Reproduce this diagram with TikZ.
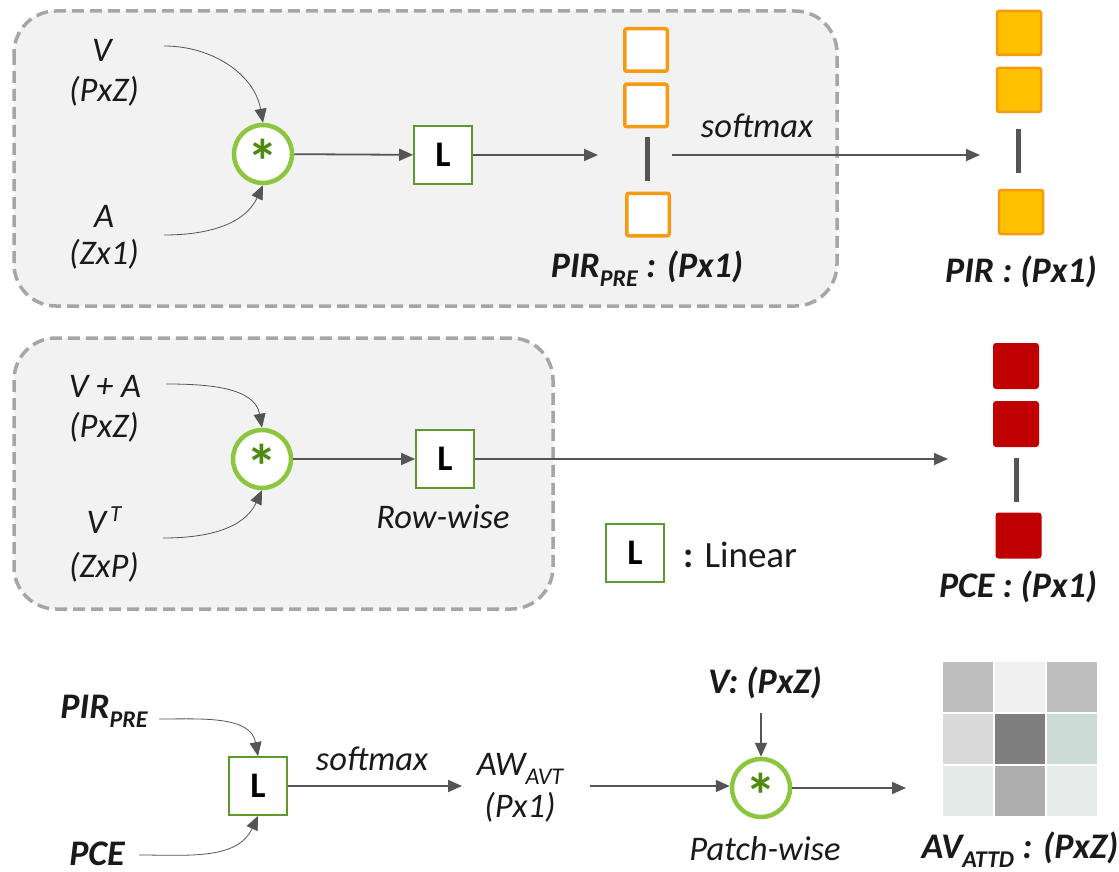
\documentclass[tikz,border=0pt]{standalone}
\usepackage{fontspec}
\setmainfont{Carlito}
\usetikzlibrary{arrows.meta,calc}
\definecolor{panelfill}{HTML}{F2F2F2}
\definecolor{paneldash}{HTML}{A6A6A6}
\definecolor{linegray}{HTML}{555555}
\definecolor{ringgreen}{HTML}{8CC63F}
\definecolor{stargreen}{HTML}{4F8A10}
\definecolor{boxgreen}{HTML}{5E9A2B}
\definecolor{orangeedge}{HTML}{F59B12}
\definecolor{pirfill}{HTML}{FFC000}
\definecolor{pcered}{HTML}{C00000}
\definecolor{txt}{HTML}{1A1A1A}
\definecolor{ga}{HTML}{BDBDBD}
\definecolor{gb}{HTML}{F0F0F0}
\definecolor{gc}{HTML}{D9D9D9}
\definecolor{gd}{HTML}{7F7F7F}
\definecolor{ge}{HTML}{CCDBD5}
\definecolor{gf}{HTML}{E3EAE8}
\definecolor{gg}{HTML}{ADADAD}
\definecolor{gh}{HTML}{E7ECEA}
\newcommand{\lowsub}[1]{\raisebox{-9pt}{\fontsize{24}{24}\selectfont #1}}
\newcommand{\upsup}[1]{\raisebox{12pt}{\fontsize{23}{23}\selectfont #1}}
\tikzset{
  panel/.style={draw=paneldash, fill=panelfill, line width=3.5pt, dash pattern=on 12pt off 6pt, rounded corners=42pt},
  opcirc/.style={circle, draw=ringgreen, fill=white, line width=4.5pt, minimum size=58pt, inner sep=0pt},
  startxt/.style={font=\fontsize{62}{62}\selectfont\bfseries, text=stargreen, inner sep=0pt},
  linbox/.style={draw=boxgreen, fill=white, line width=1.8pt, minimum size=58pt, inner sep=0pt, font=\fontsize{36}{36}\selectfont\bfseries, text=black},
  arr/.style={-{Triangle[length=14pt,width=12pt]}, draw=linegray, line width=1.8pt},
  carr/.style={-{Triangle[length=14pt,width=12pt]}, draw=linegray, line width=0.8pt},
  lab/.style={font=\fontsize{34.5}{38}\selectfont\itshape, text=txt, inner sep=0pt, anchor=base},
  blab/.style={font=\fontsize{36}{40}\selectfont\bfseries\itshape, text=txt, inner sep=0pt, anchor=base},
  presq/.style={draw=orangeedge, fill=white, line width=3.5pt, minimum size=42.5pt, rounded corners=2pt, inner sep=0pt},
  pirsq/.style={draw=orangeedge, fill=pirfill, line width=2.5pt, minimum size=44pt, rounded corners=2pt, inner sep=0pt},
  pcesq/.style={fill=pcered, draw=none, minimum size=46pt, rounded corners=3pt, inner sep=0pt},
  vbar/.style={draw=linegray, line width=5pt},
  cell/.style={draw=none, minimum size=49.5pt, inner sep=0pt, anchor=north west},
}
\begin{document}
\begin{tikzpicture}[x=1pt,y=1pt]
\useasboundingbox (0,0) rectangle (1119,-872);
\fill[white] (0,0) rectangle (1119,-872);

% panels
\draw[panel] (14,-11) rectangle (837,-306);
\draw[panel] (14,-338) rectangle (553,-609);

% ---------- top panel ----------
\node[lab] (v1) at (102,-62) {V};
\node[lab] (v1d) at (104,-102) {(PxZ)};
\node[lab] (a1) at (104,-227) {A};
\node[lab] (a1d) at (104,-264) {(Zx1)};
\coordinate (v1s) at (164,-46);
\coordinate (a1s) at (164,-235);
\node[opcirc] (c1) at (263,-154) {};
\node[startxt] (s1) at ([yshift=-7pt]c1.center) {*};
\node[linbox] (L1) at (443,-155) {L};
\draw[carr] (v1s) to[out=0,in=100] (c1.north);
\draw[carr] (a1s) to[out=0,in=-115] (c1.south);
\draw[arr] (c1) -- (L1);
\coordinate (preIn) at (598,-155);
\draw[arr] (L1) -- (preIn);

\node[presq] (p1) at (646,-50) {};
\node[presq] (p2) at (646,-105.5) {};
\node[presq] (p3) at (648,-214.5) {};
\draw[vbar] (647,-137) -- (647,-181);
\node[blab] (prelab) at (647,-277) {PIR\lowsub{PRE} : (Px1)};

\coordinate (preOut) at (672,-155);
\coordinate (pirIn) at (980,-155);
\draw[arr] (preOut) -- (pirIn);
\node[lab] (sm1) at (757,-138) {softmax};

\node[pirsq] (q1) at (1019,-33) {};
\node[pirsq] (q2) at (1019,-90) {};
\node[pirsq] (q3) at (1021,-212) {};
\draw[vbar] (1018,-129) -- (1018,-173);
\node[blab] (pirlab) at (1021,-282) {PIR : (Px1)};

% ---------- middle panel ----------
\node[lab] (v2) at (105,-397) {V + A};
\node[lab] (v2d) at (104,-437) {(PxZ)};
\node[lab] (vt) at (104,-533) {V\hspace{4pt}\upsup{T}};
\node[lab] (vtd) at (104,-577) {(ZxP)};
\coordinate (v2s) at (166,-384);
\coordinate (vts) at (163,-538);
\node[opcirc] (c2) at (262,-459) {};
\node[startxt] (s2) at ([yshift=-7pt]c2.center) {*};
\node[linbox] (L2) at (445,-459) {L};
\draw[carr] (v2s) to[out=0,in=100] (c2.north);
\draw[carr] (vts) to[out=0,in=-115] (c2.south);
\draw[arr] (c2) -- (L2);
\node[lab] (rw) at (443,-528) {Row-wise};
\coordinate (pceIn) at (948,-459);
\draw[arr] (L2) -- (pceIn);

\node[pcesq] (r1) at (1016,-366) {};
\node[pcesq] (r2) at (1016,-424) {};
\node[pcesq] (r3) at (1018.5,-535.5) {};
\draw[vbar] (1016,-458) -- (1016,-502);
\node[blab] (pcelab) at (1018,-597) {PCE : (Px1)};

% legend
\node[linbox] (Lleg) at (635,-553) {L};
\node[font=\fontsize{37}{40}\selectfont, text=txt, inner sep=0pt, anchor=base west] (legtxt) at (683,-567) {\textbf{:} Linear};

% ---------- bottom ----------
\node[blab] (pirb) at (104,-718) {PIR\lowsub{PRE}};
\node[blab] (pceb) at (97,-865) {PCE};
\coordinate (pirbs) at (159,-719);
\coordinate (pcebs) at (139,-855);
\node[linbox] (L3) at (258,-786) {L};
\draw[carr] (pirbs) to[out=0,in=100] (L3.north);
\draw[carr] (pcebs) to[out=0,in=-115] (L3.south);
\coordinate (awIn) at (462,-786);
\draw[arr] (L3) -- (awIn);
\node[lab] (sm2) at (372,-770) {softmax};
\node[lab] (aw) at (520,-775) {AW\lowsub{AVT}};
\node[lab] (awd) at (520,-817) {(Px1)};

\node[opcirc] (c3) at (761,-788) {};
\node[startxt] (s3) at ([yshift=-7pt]c3.center) {*};
\coordinate (awOut) at (590,-786);
\draw[arr] (awOut) -- (awOut -| c3.west);
\node[blab] (vlab) at (765,-693) {V: (PxZ)};
\coordinate (vdown) at (761,-713);
\draw[arr] (vdown) -- (c3.north);
\node[lab] (pw) at (765,-860) {Patch-wise};
\coordinate (gridIn) at (906,-788);
\draw[arr] (c3.east) -- (gridIn);

% grid
\node[cell, fill=ga] (g11) at (943,-662) {};
\node[cell, fill=gb] (g12) at (995,-662) {};
\node[cell, fill=ga] (g13) at (1047,-662) {};
\node[cell, fill=gc] (g21) at (943,-714) {};
\node[cell, fill=gd] (g22) at (995,-714) {};
\node[cell, fill=ge] (g23) at (1047,-714) {};
\node[cell, fill=gf] (g31) at (943,-766) {};
\node[cell, fill=gg] (g32) at (995,-766) {};
\node[cell, fill=gh] (g33) at (1047,-766) {};
\node[blab] (avlab) at (1020,-858) {AV\lowsub{ATTD} : (PxZ)};
\end{tikzpicture}
\end{document}
